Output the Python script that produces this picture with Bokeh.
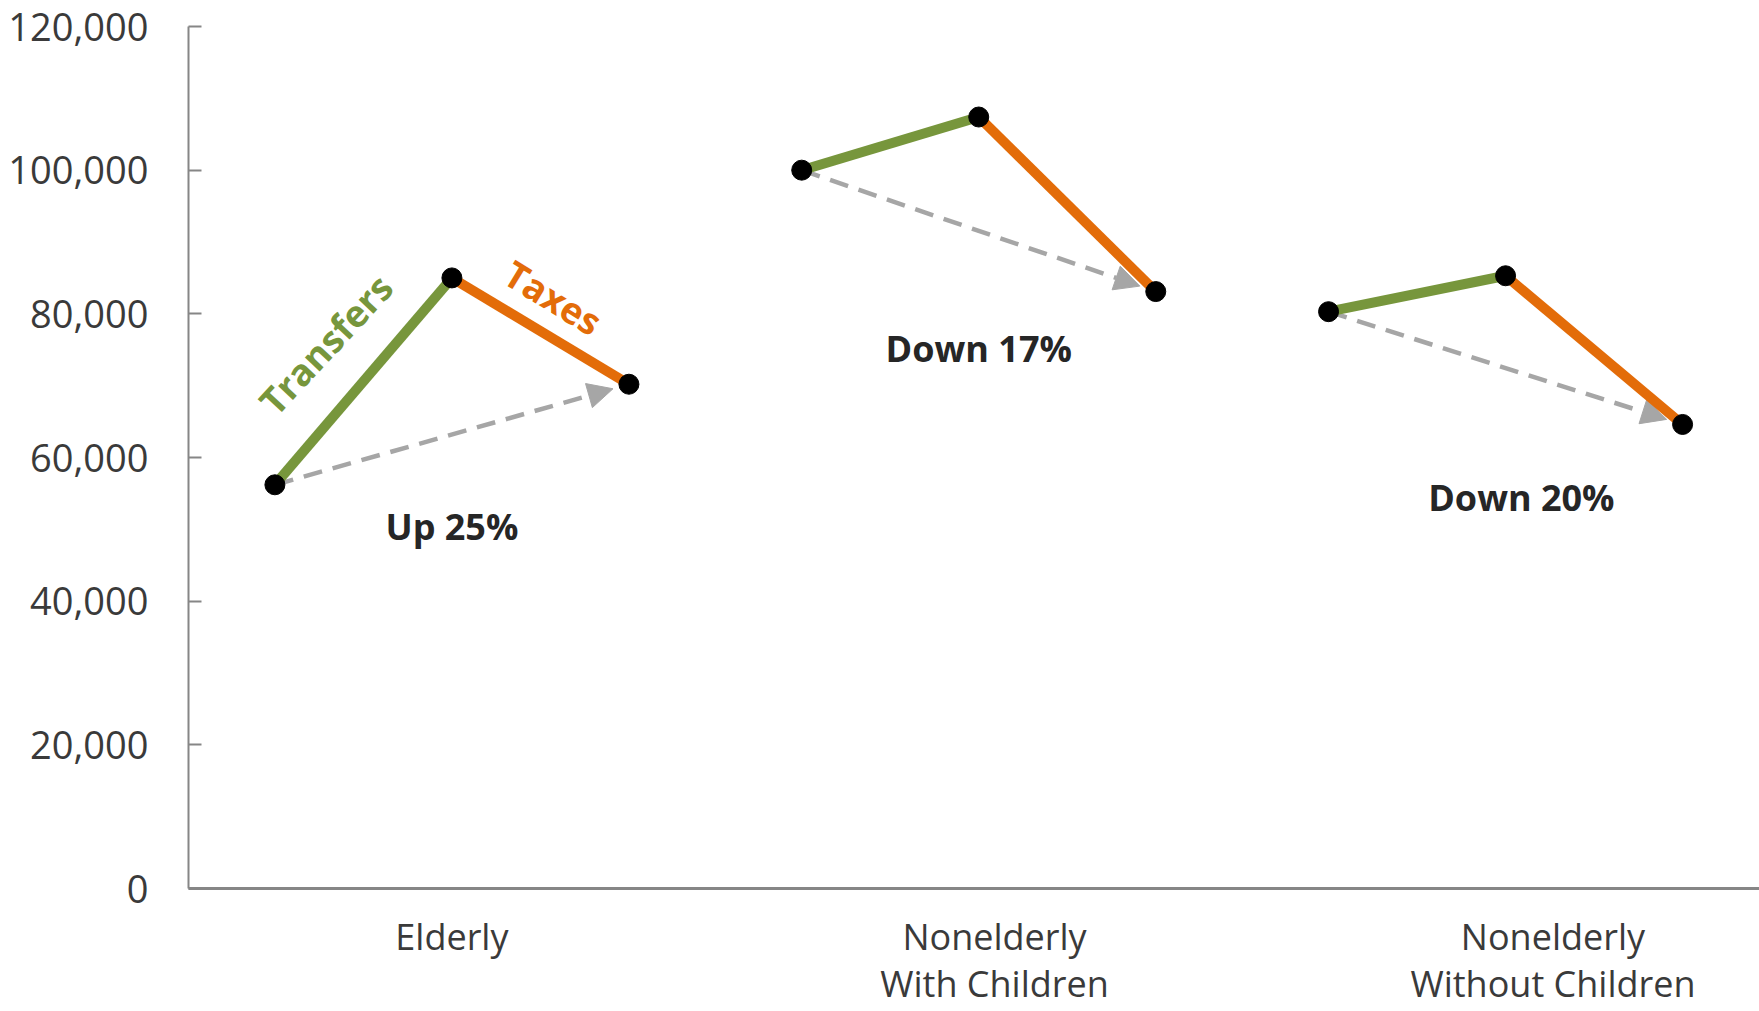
from bokeh.plotting import figure
from bokeh.models import Arrow, NormalHead, FixedTicker, NumeralTickFormatter, Range1d, ColumnDataSource
from bokeh.core.properties import value
from bokeh.embed import file_html
from bokeh.resources import INLINE

# ---- data ----
categories = ["Elderly", "Nonelderly\nWith Children", "Nonelderly\nWithout Children"]
market_income = [56200, 100000, 80300]
with_transfers = [85000, 107400, 85300]
after_taxes = [70200, 83100, 64600]
change_labels = ["Up 25%", "Down 17%", "Down 20%"]
y_ticks = [0, 20000, 40000, 60000, 80000, 100000, 120000]

# ---- styling / layout constants ----
GREEN = "#77963C"
ORANGE = "#E36C09"
GRAY = "#A6A6A6"
TEXT = "#3A3A3A"
FONT = "Open Sans"
STEP = 0.336                      # horizontal spacing of the three stages in a category
label_tick_pos = [0.0, 1.03, 2.09]  # where category labels sit
change_label_pos = [(0.0, 50400), (1.0, 75200), (2.03, 54500)]
ARROW_FRAC = 0.955

x0 = [i - STEP for i in range(3)]
x1 = [i for i in range(3)]
x2 = [i + STEP for i in range(3)]

p = figure(width=1759, height=1011, x_range=Range1d(-0.5, 2.482), y_range=Range1d(0, 120000),
           output_backend="svg", toolbar_location=None,
           min_border_left=188, min_border_right=0, min_border_top=26, min_border_bottom=119)
p.outline_line_color = None
p.xgrid.grid_line_color = None
p.ygrid.grid_line_color = None
p.background_fill_color = "white"

# y axis
p.yaxis.ticker = FixedTicker(ticks=y_ticks)
p.yaxis.formatter = NumeralTickFormatter(format="0,0")
p.yaxis.major_tick_in = 13
p.yaxis.major_tick_out = 0
p.yaxis.minor_tick_line_color = None
p.yaxis.axis_line_color = "#868686"
p.yaxis.axis_line_width = 2
p.yaxis.major_tick_line_color = "#868686"
p.yaxis.major_tick_line_width = 2
p.yaxis.major_label_standoff = 40
p.yaxis.major_label_text_font = FONT
p.yaxis.major_label_text_font_size = "38px"
p.yaxis.major_label_text_color = TEXT

# x axis
p.xaxis.ticker = FixedTicker(ticks=label_tick_pos)
p.xaxis.major_label_overrides = {label_tick_pos[i]: categories[i] for i in range(3)}
p.xaxis.major_tick_line_color = None
p.xaxis.minor_tick_line_color = None
p.xaxis.major_tick_in = 0
p.xaxis.major_tick_out = 0
p.xaxis.axis_line_color = "#868686"
p.xaxis.axis_line_width = 3
p.xaxis.major_label_standoff = 23
p.xaxis.major_label_text_font = FONT
p.xaxis.major_label_text_font_size = "36px"
p.xaxis.major_label_text_color = TEXT
p.xaxis.major_label_text_line_height = 0.97

# dashed net-change arrows
arrow_src = ColumnDataSource(dict(
    xs=x0, ys=market_income,
    xe=[x0[i] + ARROW_FRAC * (x2[i] - x0[i]) for i in range(3)],
    ye=[market_income[i] + ARROW_FRAC * (after_taxes[i] - market_income[i]) for i in range(3)],
))
arrow = Arrow(end=NormalHead(size=25, fill_color=GRAY, line_color=GRAY, line_width=1),
              x_start="xs", y_start="ys", x_end="xe", y_end="ye", source=arrow_src,
              line_color=GRAY, line_width=4.5, line_dash="19 11", level="underlay")
p.add_layout(arrow)

# transfers & taxes segments
p.multi_line(xs=[[x0[i], x1[i]] for i in range(3)],
             ys=[[market_income[i], with_transfers[i]] for i in range(3)],
             line_color=GREEN, line_width=10)
p.multi_line(xs=[[x1[i], x2[i]] for i in range(3)],
             ys=[[with_transfers[i], after_taxes[i]] for i in range(3)],
             line_color=ORANGE, line_width=10)

# markers
p.scatter(x=x0 + x1 + x2, y=market_income + with_transfers + after_taxes,
          size=20, fill_color="black", line_color="black")

# change labels
p.text(x=[c[0] for c in change_label_pos], y=[c[1] for c in change_label_pos], text=change_labels,
       text_align="center", text_baseline="middle", text_font=value(FONT),
       text_font_style="bold", text_font_size="36px", text_color="#262626")

# segment labels
p.text(x=[-0.24], y=[75800], text=["Transfers"], angle=0.82,
       text_align="center", text_baseline="middle", text_font=value(FONT),
       text_font_style="bold", text_font_size="37px", text_color=GREEN)
p.text(x=[0.193], y=[82300], text=["Taxes"], angle=-0.55,
       text_align="center", text_baseline="middle", text_font=value(FONT),
       text_font_style="bold", text_font_size="37px", text_color=ORANGE)

open("out.html", "w").write(file_html(p, INLINE))
